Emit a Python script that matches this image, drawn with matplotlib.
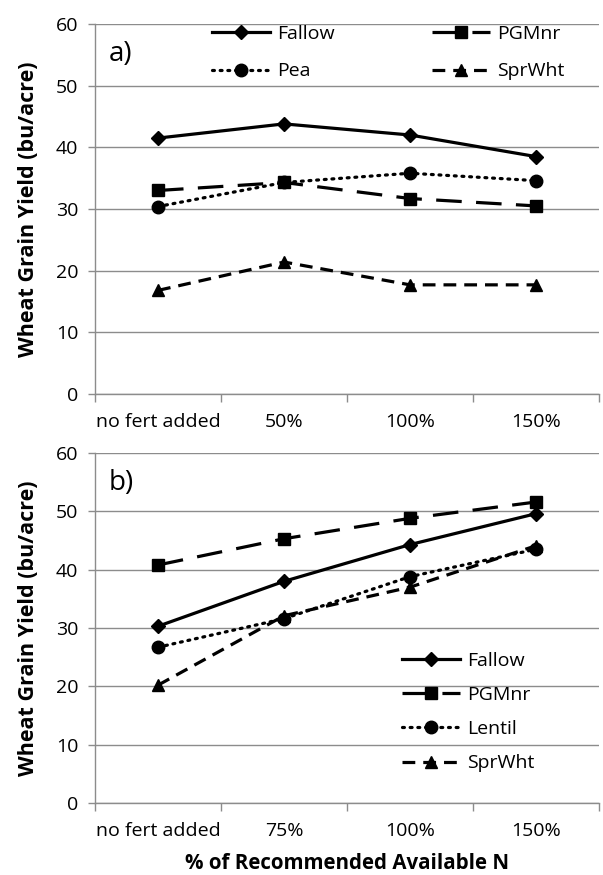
import numpy as np
import matplotlib
matplotlib.use('Agg')
import matplotlib.pyplot as plt

plt.rcParams['font.family'] = ['Open Sans', 'DejaVu Sans']

# panel a)
cats_a = ['no fert added', '50%', '100%', '150%']
fallow_a = [41.5, 43.8, 42.0, 38.5]
pgmnr_a = [33.0, 34.3, 31.7, 30.5]
pea_a = [30.4, 34.3, 35.8, 34.6]
sprwht_a = [16.8, 21.4, 17.7, 17.7]

# panel b)
cats_b = ['no fert added', '75%', '100%', '150%']
fallow_b = [30.3, 38.0, 44.3, 49.6]
pgmnr_b = [40.8, 45.3, 48.8, 51.6]
lentil_b = [26.7, 31.6, 38.8, 43.5]
sprwht_b = [20.2, 32.1, 37.0, 44.1]

yticks = [0, 10, 20, 30, 40, 50, 60]

grid_col = '#8c8c8c'
lw = 2.3
W, H = 603, 875


def style_axes(ax, cats, tag):
    n = len(cats)
    ax.set_xlim(0, n)
    ax.set_ylim(0, 60)
    ax.set_yticks(yticks)
    ax.yaxis.grid(True, color=grid_col, linewidth=1.0)
    ax.set_axisbelow(True)
    ax.set_xticks(np.arange(n + 1))
    ax.set_xticklabels([])
    ax.set_xticks(np.arange(n) + 0.5, minor=True)
    ax.set_xticklabels(cats, minor=True)
    ax.tick_params(axis='x', which='major', direction='out', length=6,
                   color=grid_col, width=1.0)
    ax.tick_params(axis='x', which='minor', length=0, pad=14, labelsize=14)
    ax.tick_params(axis='y', length=5, color=grid_col, width=1.0,
                   labelsize=14, pad=7)
    for s in ['top', 'right']:
        ax.spines[s].set_visible(False)
    for s in ['left', 'bottom']:
        ax.spines[s].set_color(grid_col)
        ax.spines[s].set_linewidth(1.0)
    ax.set_ylabel('Wheat Grain Yield (bu/acre)', fontsize=15.5,
                  fontweight='bold', labelpad=12)
    ax.text(0.027, 1 - 30 / (ax.get_position().height * H), tag,
            transform=ax.transAxes, fontsize=20, va='center')


def plot_series(ax, x, fallow, pgmnr, legume, legume_name, sprwht):
    ax.plot(x, fallow, color='black', lw=lw, marker='D', ms=7,
            label='Fallow')
    ax.plot(x, pgmnr, color='black', lw=lw, marker='s', ms=8,
            dashes=(8, 4.5), label='PGMnr')
    ax.plot(x, legume, color='black', lw=lw, marker='o', ms=9,
            dashes=(0.6, 1.8), dash_capstyle='round', label=legume_name)
    ax.plot(x, sprwht, color='black', lw=lw, marker='^', ms=9,
            dashes=(4, 2.5), label='SprWht')


fig = plt.figure(figsize=(W / 100, H / 100), dpi=100)
left = 95 / W
width = 504 / W
ax1 = fig.add_axes([left, 1 - 394 / H, width, 370 / H])
ax2 = fig.add_axes([left, 1 - 803 / H, width, 350 / H])

x = np.arange(4) + 0.5

plot_series(ax1, x, fallow_a, pgmnr_a, pea_a, 'Pea', sprwht_a)
style_axes(ax1, cats_a, 'a)')
h, l = ax1.get_legend_handles_labels()
order = [0, 2, 1, 3]
ax1.legend([h[i] for i in order], [l[i] for i in order], ncol=2,
           loc='upper left', bbox_to_anchor=(212 / W, 1 - 25 / H),
           bbox_transform=fig.transFigure, frameon=False, borderpad=0,
           borderaxespad=0, fontsize=14, handlelength=3.0,
           handletextpad=0.35, columnspacing=5.0, labelspacing=1.0)

plot_series(ax2, x, fallow_b, pgmnr_b, lentil_b, 'Lentil', sprwht_b)
style_axes(ax2, cats_b, 'b)')
ax2.legend(loc='upper left', bbox_to_anchor=(402 / W, 1 - 652 / H),
           bbox_transform=fig.transFigure, frameon=False, borderpad=0,
           borderaxespad=0, fontsize=14, handlelength=3.0,
           handletextpad=0.35, labelspacing=0.83)
ax2.set_xlabel('% of Recommended Available N', fontsize=14.8,
               fontweight='bold', labelpad=9)

fig.savefig('out.png', dpi=100)
